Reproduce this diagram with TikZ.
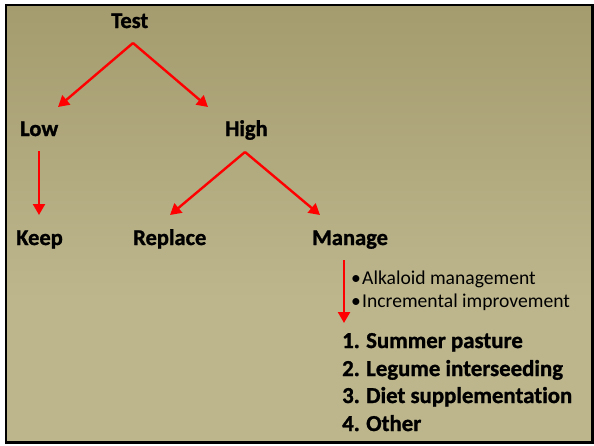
\documentclass[tikz,border=0pt]{standalone}
\usepackage{fontspec}
\setmainfont{Carlito}[Ligatures={NoCommon},BoldFeatures={FakeBold=1.2}]
\usetikzlibrary{arrows.meta,calc}
\definecolor{bgtop}{RGB}{164,156,110}
\definecolor{bgbot}{RGB}{189,182,141}
\definecolor{arrred}{RGB}{255,0,0}
\newcommand{\numlab}[2]{\makebox[24pt][l]{#1}#2}
\newcommand{\bulab}[1]{\makebox[11pt][l]{\textbullet}#1}
\tikzset{
  head/.style={anchor=base west,inner sep=0pt,font=\fontsize{22.5}{26}\selectfont\bfseries},
  item/.style={anchor=base west,inner sep=0pt,font=\fontsize{22.8}{26}\selectfont\bfseries},
  bul/.style={anchor=base west,inner sep=0pt,font=\fontsize{19.6}{22}\selectfont},
  arr/.style={draw=arrred,line width=2.4pt,-{Triangle[length=11pt,width=12pt]}}
}
\begin{document}
\begin{tikzpicture}[x=1pt,y=-1pt]
\useasboundingbox (0,0) rectangle (594,445);
\fill[white] (0,0) rectangle (594,445);
\shade[top color=bgtop,bottom color=bgbot] (6,5) rectangle (592,300);
\fill[bgbot] (6,299) rectangle (592,442);
\draw[black,line width=2.6pt] (6,5) rectangle (592.5,442.5);

\node[head] (test) at (111,28) {Test};
\node[head] (low) at (20,136) {Low};
\node[head] (high) at (225,136) {High};
\node[head] (keep) at (16,245) {Keep};
\node[head] (replace) at (133,245) {Replace};
\node[head] (manage) at (312,245) {Manage};

\node[bul] (b1) at (351,284) {\bulab{Alkaloid management}};
\node[bul] (b2) at (351,307) {\bulab{Incremental improvement}};

\node[item] (n1) at (342,348) {\numlab{1.}{Summer pasture}};
\node[item] (n2) at (342,376) {\numlab{2.}{Legume interseeding}};
\node[item] (n3) at (342,403) {\numlab{3.}{Diet supplementation}};
\node[item] (n4) at (342,431) {\numlab{4.}{Other}};

\coordinate (tapex) at ($(test.base west)+(22,15)$);
\coordinate (hapex) at ($(high.base west)+(20,16)$);
\draw[arr] (tapex) -- ($(low.base west)+(38,-29)$);
\draw[arr] (tapex) -- ($(high.base west)+(-17,-29)$);
\draw[arr] ($(low.base west)+(19,15)$) -- ($(keep.base west)+(23,-30)$);
\draw[arr] (hapex) -- ($(replace.base west)+(37,-30)$);
\draw[arr] (hapex) -- ($(manage.base west)+(8,-30)$);
\draw[arr] ($(manage.base west)+(32,15)$) -- ($(n1.base west)+(2,-25)$);
\end{tikzpicture}
\end{document}
